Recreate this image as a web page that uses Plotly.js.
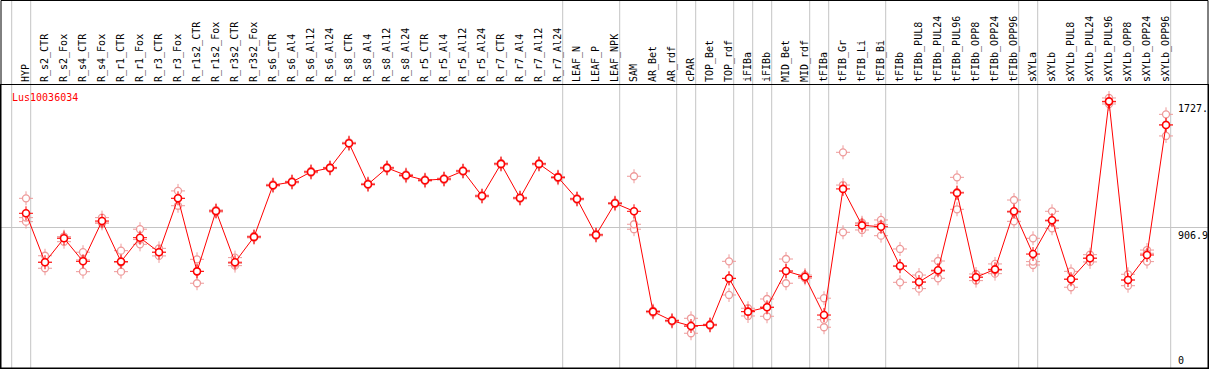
<!DOCTYPE html>
<html>
<head>
<meta charset="utf-8">
<script src="https://cdn.plot.ly/plotly-3.0.1.min.js"></script>
<style>
html,body{margin:0;padding:0;background:#fff;}
#chart{width:1209px;height:370px;}
</style>
</head>
<body>
<div id="chart"></div>
<script>
const geneName = "Lus10036034";

const categories = ["HYP","R_s2_CTR","R_s2_Fox","R_s4_CTR","R_s4_Fox","R_r1_CTR","R_r1_Fox","R_r3_CTR","R_r3_Fox","R_r1s2_CTR",
"R_r1s2_Fox","R_r3s2_CTR","R_r3s2_Fox","R_s6_CTR","R_s6_Al4","R_s6_Al12","R_s6_Al24","R_s8_CTR","R_s8_Al4","R_s8_Al12",
"R_s8_Al24","R_r5_CTR","R_r5_Al4","R_r5_Al12","R_r5_Al24","R_r7_CTR","R_r7_Al4","R_r7_Al12","R_r7_Al24","LEAF_N",
"LEAF_P","LEAF_NPK","SAM","AR_Bet","AR_rdf","cPAR","TOP_Bet","TOP_rdf","iFIBa","iFIBb",
"MID_Bet","MID_rdf","tFIBa","tFIB_Gr","tFIB_Li","tFIB_Bi","tFIBb","tFIBb_PUL8","tFIBb_PUL24","tFIBb_PUL96",
"tFIBb_OPP8","tFIBb_OPP24","tFIBb_OPP96","sXYLa","sXYLb","sXYLb_PUL8","sXYLb_PUL24","sXYLb_PUL96","sXYLb_OPP8","sXYLb_OPP24",
"sXYLb_OPP96"];

const meanValues = [1002,685,840,691,952,689,844,750,1099,626,
1017,685,849,1184,1205,1270,1296,1456,1190,1296,
1248,1216,1224,1276,1114,1322,1101,1322,1235,1095,
862,1067,1015,365,306,272,279,581,365,393,
628,591,343,1160,924,915,661,557,633,1134,
588,639,1015,738,957,575,711,1727,570,732,
1574];

const replicate1 = [1099,727,849,750,974,760,899,775,1147,704,
1024,715,855,1190,1210,1276,1300,1462,1196,1301,
1254,1221,1230,1281,1120,1328,1106,1327,1240,1100,
867,1072,1242,372,311,322,284,691,387,447,
706,602,452,1397,941,959,771,602,693,1235,
609,674,1088,840,1015,626,734,1749,607,764,
1643];

const replicate2 = [948,646,818,624,937,624,801,726,1051,549,
1010,663,843,1178,1199,1264,1291,1450,1185,1290,
1242,1210,1218,1270,1108,1316,1095,1316,1229,1089,
856,1061,899,358,300,225,274,473,337,335,
549,581,264,879,894,857,555,514,581,1028,
566,611,950,667,905,523,687,1710,533,689,
1503];

const replicate3 = [974,685,850,700,945,683,832,750,1099,626,
1017,677,849,1184,1205,1270,1296,1456,1190,1296,
1248,1216,1224,1276,1114,1322,1101,1322,1235,1095,
862,1067,931,365,306,270,279,580,365,395,
628,591,313,1185,935,928,657,555,626,1139,
589,632,1007,689,951,576,712,1722,570,743,
1576];

// first category of each group (a grey separator is drawn before each), plus the end
const groupStarts = ["HYP","R_s2_CTR","LEAF_N","SAM","cPAR","TOP_Bet","iFIBa","iFIBb","MID_Bet","tFIBa","tFIB_Gr","tFIBb","sXYLa","sXYLb"];

const axisLabels = [
  {text: "1727.", value: 1727, anchor: "top"},
  {text: "906.9", value: 906.9, anchor: "top"},
  {text: "0", value: 0, anchor: "bottom"}
];
const gridValues = [906.9];

const idx = categories.map((c, i) => i);
const repX = [].concat(idx, idx, idx);
const repY = [].concat(replicate1, replicate2, replicate3);

const MONO = "DejaVu Sans Mono, monospace";
const RED = "#ff0000";
const PINK = "#ee9a9a";
const GREY = "#c4c4c4";

const traces = [
  {x: repX, y: repY, type: "scatter", mode: "markers",
   marker: {symbol: "cross-thin-open", size: 10, color: PINK, line: {color: PINK, width: 1}}, hoverinfo: "skip"},
  {x: repX, y: repY, type: "scatter", mode: "markers",
   marker: {symbol: "circle", size: 7, color: "#ffffff", line: {color: PINK, width: 1.3}}, hoverinfo: "skip"},
  {x: idx, y: meanValues, type: "scatter", mode: "lines",
   line: {color: RED, width: 1}, hoverinfo: "skip"},
  {x: idx, y: meanValues, type: "scatter", mode: "markers",
   marker: {symbol: "cross-thin-open", size: 10, color: RED, line: {color: RED, width: 1}}, hoverinfo: "skip"},
  {x: idx, y: meanValues, type: "scatter", mode: "markers",
   marker: {symbol: "circle", size: 7, color: "#ffffff", line: {color: RED, width: 1.6}}, hoverinfo: "skip"}
];

const shapes = [];
const sepPositions = groupStarts.map(g => categories.indexOf(g)).concat([categories.length]);
sepPositions.forEach(p => {
  shapes.push({type: "line", xref: "x", yref: "paper", x0: p - 0.753, x1: p - 0.753, y0: 0, y1: 1.3,
    line: {color: GREY, width: 1}, layer: "below"});
});
// outer frame
shapes.push({type: "rect", xref: "paper", yref: "paper", x0: 0, x1: 1, y0: 0, y1: 1.2986,
  line: {color: "#000", width: 1}, fillcolor: "rgba(0,0,0,0)", layer: "above"});

const annotations = axisLabels.map(a => ({
  text: a.text, xref: "paper", yref: "y", x: 0.9735, y: a.value,
  xanchor: "left", yanchor: a.anchor, showarrow: false,
  font: {family: MONO, size: 10, color: "#000"}
}));
annotations.push({text: geneName, xref: "paper", yref: "paper", x: 0.0075, y: 0.957,
  xanchor: "left", yanchor: "middle", showarrow: false,
  font: {family: MONO, size: 10, color: RED}});

const layout = {
  width: 1209, height: 370,
  margin: {l: 1, r: 1, t: 85, b: 2, pad: 0},
  paper_bgcolor: "#fff", plot_bgcolor: "#fff",
  showlegend: false,
  xaxis: {
    range: [-1.3158, 62.21], side: "top",
    tickmode: "array", tickvals: idx, ticktext: categories, tickangle: -90,
    tickfont: {family: MONO, size: 10, color: "#000"},
    ticks: "", showgrid: false, zeroline: false,
    showline: true, linecolor: "#000", linewidth: 1, mirror: true
  },
  yaxis: {
    range: [0, 1833], tickmode: "array", tickvals: gridValues,
    showticklabels: false, ticks: "", showgrid: true, gridcolor: GREY, gridwidth: 1,
    zeroline: false, showline: true, linecolor: "#000", linewidth: 1, mirror: true
  },
  shapes: shapes,
  annotations: annotations
};

Plotly.newPlot("chart", traces, layout, {staticPlot: true, displayModeBar: false});
</script>
</body>
</html>
